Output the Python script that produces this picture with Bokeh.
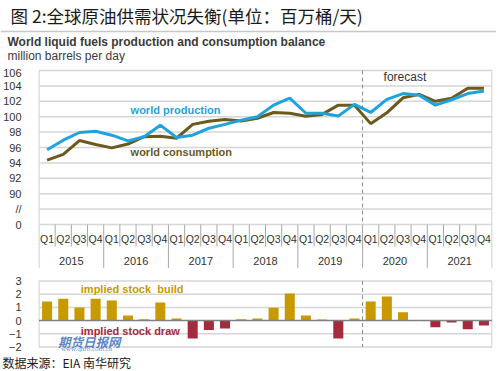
from bokeh.plotting import figure
from bokeh.layouts import column
from bokeh.models import Range1d, FixedTicker, Label
from bokeh.core.properties import value
from bokeh.embed import file_html
from bokeh.resources import INLINE

years = ["2015", "2016", "2017", "2018", "2019", "2020", "2021"]
quarters = ["Q1", "Q2", "Q3", "Q4"]

production = [95.7, 96.95, 97.95, 98.1,
              97.6, 96.85, 97.4, 98.9,
              97.3, 97.6, 98.5, 99.0,
              99.55, 100.0, 101.5, 102.4,
              100.45, 100.45, 100.1, 101.6,
              100.55, 102.25, 103.0, 102.8,
              101.5, 102.2, 103.0, 103.35]
consumption = [94.35, 95.1, 96.9, 96.4,
               95.95, 96.45, 97.4, 97.45,
               97.2, 99.0, 99.4, 99.65,
               99.45, 99.8, 100.55, 100.45,
               100.05, 100.3, 101.5, 101.5,
               99.1, 100.5, 102.45, 102.9,
               102.0, 102.4, 103.7, 103.7]
stock_change = [1.45, 1.65, 1.0, 1.65,
                1.52, 0.38, 0.1, 1.38,
                0.15, -1.35, -0.72, -0.6,
                0.1, 0.15, 0.98, 2.05,
                0.38, 0.08, -1.35, 0.15,
                1.45, 1.83, 0.63, 0.0,
                -0.5, -0.15, -0.65, -0.38]
y_ticks = [86, 88, 90, 92, 94, 96, 98, 100, 102, 104, 106]
y_tick_labels = {86: "0", 88: "//"}
bar_ticks = [3, 2, 1, 0, -1, -2]
forecast_start = 20  # index of 2020 Q1

FONT = value("Liberation Sans")
CJK = value("Noto Sans CJK SC")
BLUE = "#1fa3dc"
BROWN = "#6b5a1c"
GOLD = "#c99a00"
RED = "#a52a3d"
GRID = "#d6d6d6"
SEP = "#a8a8a8"
WM = "#3f6fbf"

W = 496
n = len(production)
xc = [i + 0.5 for i in range(n)]
cell = 456 / (n + 0.06)

# ---------------- header ----------------
hdr = figure(width=W, height=66, x_range=Range1d(0, W), y_range=Range1d(66, 0),
             x_axis_location=None, y_axis_location=None, toolbar_location=None,
             output_backend="svg", min_border=0, outline_line_color=None, frame_align=False)
hdr.grid.visible = False
hdr.text(x=[10], y=[15], text=["图 2:全球原油供需状况失衡(单位：百万桶/天)"],
         text_font=CJK, text_font_size="17.5px", text_color="#1a1a1a",
         text_baseline="middle", text_align="left")
hdr.segment(x0=[0], y0=[31], x1=[W], y1=[31], line_color="#c8c8c8", line_width=1.5)
hdr.text(x=[7], y=[41], text=["World liquid fuels production and consumption balance"],
         text_font=FONT, text_font_size="12px", text_font_style="bold", text_color="#3a3a3a",
         text_baseline="middle", text_align="left")
hdr.text(x=[7], y=[55], text=["million barrels per day"],
         text_font=FONT, text_font_size="12px", text_color="#3a3a3a",
         text_baseline="middle", text_align="left")

# ---------------- main chart ----------------
px = 7.7
top = figure(width=W, height=202,
             x_range=Range1d(-0.03, n + 0.03),
             y_range=Range1d(106 - 198 / px, 106 + 4 / px),
             x_axis_location=None, toolbar_location=None, output_backend="svg",
             min_border_left=36, min_border_right=4, min_border_top=0, min_border_bottom=0,
             outline_line_color=None)
top.grid.visible = False
ax = top.yaxis[0]
ax.ticker = FixedTicker(ticks=y_ticks)
ax.major_label_overrides = y_tick_labels
ax.axis_line_color = None
ax.major_tick_line_color = None
ax.minor_tick_line_color = None
ax.major_label_standoff = 11
ax.major_label_text_font = "Liberation Sans"
ax.major_label_text_font_size = "11px"
ax.major_label_text_color = "#333333"

top.segment(x0=[0] * len(y_ticks), y0=y_ticks, x1=[n] * len(y_ticks), y1=y_ticks,
            line_color=GRID, line_width=1.5)
ybase = y_ticks[0]
y_q = ybase - 22 / px
y_y = ybase - 44 / px
top.segment(x0=[0, n], y0=[y_ticks[-1]] * 2, x1=[0, n], y1=[y_y] * 2, line_color=GRID, line_width=1.5)
qx = [i for i in range(1, n) if i % 4 != 0]
top.segment(x0=qx, y0=[ybase] * len(qx), x1=qx, y1=[y_q] * len(qx), line_color=SEP, line_width=1)
yx = [i for i in range(4, n, 4)]
top.segment(x0=yx, y0=[ybase] * len(yx), x1=yx, y1=[y_y] * len(yx), line_color=SEP, line_width=1)
top.segment(x0=[forecast_start], y0=[y_ticks[-1]], x1=[forecast_start], y1=[ybase],
            line_color="#8c8c8c", line_width=1, line_dash="4 3")
top.text(x=[forecast_start + 1.3], y=[106 - 6 / px], text=["forecast"], text_font=FONT,
         text_font_size="12px", text_color="#333333", text_baseline="middle", text_align="left")

top.text(x=xc, y=[ybase - 14 / px] * n, text=[quarters[i % 4] for i in range(n)],
         text_font=FONT, text_font_size="10.5px", text_color="#333333",
         text_baseline="middle", text_align="center")
top.text(x=[4 * k + 2 for k in range(len(years))], y=[ybase - 36 / px] * len(years), text=years,
         text_font=FONT, text_font_size="11px", text_color="#333333",
         text_baseline="middle", text_align="center")

top.line(xc, consumption, line_color=BROWN, line_width=3)
top.line(xc, production, line_color=BLUE, line_width=3)

top.text(x=[(128 - 36) / cell], y=[106 - 39 / px], text=["world production"], text_font=FONT,
         text_font_size="11px", text_font_style="bold", text_color=BLUE,
         text_baseline="middle", text_align="left")
top.text(x=[(128 - 36) / cell], y=[106 - 81 / px], text=["world consumption"], text_font=FONT,
         text_font_size="11px", text_font_style="bold", text_color=BROWN,
         text_baseline="middle", text_align="left")

# ---------------- stock change bars ----------------
bpx = 13.2
btop = 3 + 7.5 / bpx
bars = figure(width=W, height=85,
              x_range=Range1d(-0.03, n + 0.03),
              y_range=Range1d(btop - 80 / bpx, btop),
              x_axis_location=None, toolbar_location=None, output_backend="svg",
              min_border_left=36, min_border_right=4, min_border_top=5, min_border_bottom=0,
              outline_line_color=None)
bars.grid.visible = False
bx = bars.yaxis[0]
bx.ticker = FixedTicker(ticks=bar_ticks)
bx.axis_line_color = None
bx.major_tick_line_color = None
bx.minor_tick_line_color = None
bx.major_label_standoff = 11
bx.major_label_text_font = "Liberation Sans"
bx.major_label_text_font_size = "11px"
bx.major_label_text_color = "#333333"

gl = [t for t in bar_ticks if t != 0]
bars.segment(x0=[0] * len(gl), y0=gl, x1=[n] * len(gl), y1=gl, line_color=GRID, line_width=1.5)
bars.segment(x0=[0, n], y0=[max(bar_ticks)] * 2, x1=[0, n], y1=[min(bar_ticks)] * 2,
             line_color=GRID, line_width=1.5)
bars.segment(x0=[forecast_start], y0=[max(bar_ticks)], x1=[forecast_start], y1=[min(bar_ticks)],
             line_color="#8c8c8c", line_width=1, line_dash="4 3")
colors = [GOLD if v >= 0 else RED for v in stock_change]
bars.vbar(x=xc, top=stock_change, bottom=0, width=0.62, fill_color=colors, line_color=None)
bars.segment(x0=[0], y0=[0], x1=[n], y1=[0], line_color="#808080", line_width=1.5)

bars.text(x=[(78 - 36) / cell], y=[3 - 7.5 / bpx], text=["implied stock\u00a0\u00a0build"], text_font=FONT,
          text_font_size="11px", text_font_style="bold", text_color=GOLD,
          text_baseline="middle", text_align="left")
bars.text(x=[(78 - 36) / cell], y=[3 - 49.5 / bpx], text=["implied stock draw"], text_font=FONT,
          text_font_size="11px", text_font_style="bold", text_color=RED,
          text_baseline="middle", text_align="left")
bars.add_layout(Label(x=(55 - 36) / cell, y=3 - 60.5 / bpx, text="期货日报网",
                      text_font="Noto Sans CJK SC", text_font_size="12.5px", text_font_style="bold italic",
                      text_color=WM, text_alpha=0.85, text_baseline="middle", text_align="left"))
bars.add_layout(Label(x=(58 - 36) / cell, y=3 - 68 / bpx, text="www.qhrb.com.cn",
                      text_font="Liberation Serif", text_font_size="7px",
                      text_color=WM, text_alpha=0.85, text_baseline="middle", text_align="left"))

# ---------------- footer ----------------
ftr = figure(width=W, height=18, x_range=Range1d(0, W), y_range=Range1d(18, 0),
             x_axis_location=None, y_axis_location=None, toolbar_location=None,
             output_backend="svg", min_border=0, outline_line_color=None, frame_align=False)
ftr.grid.visible = False
ftr.text(x=[2], y=[9], text=["数据来源：EIA 南华研究"], text_font=CJK,
         text_font_size="12px", text_color="#1a1a1a", text_baseline="middle", text_align="left")

layout = column(hdr, top, bars, ftr, spacing=0)
open("out.html", "w").write(file_html(layout, INLINE))
